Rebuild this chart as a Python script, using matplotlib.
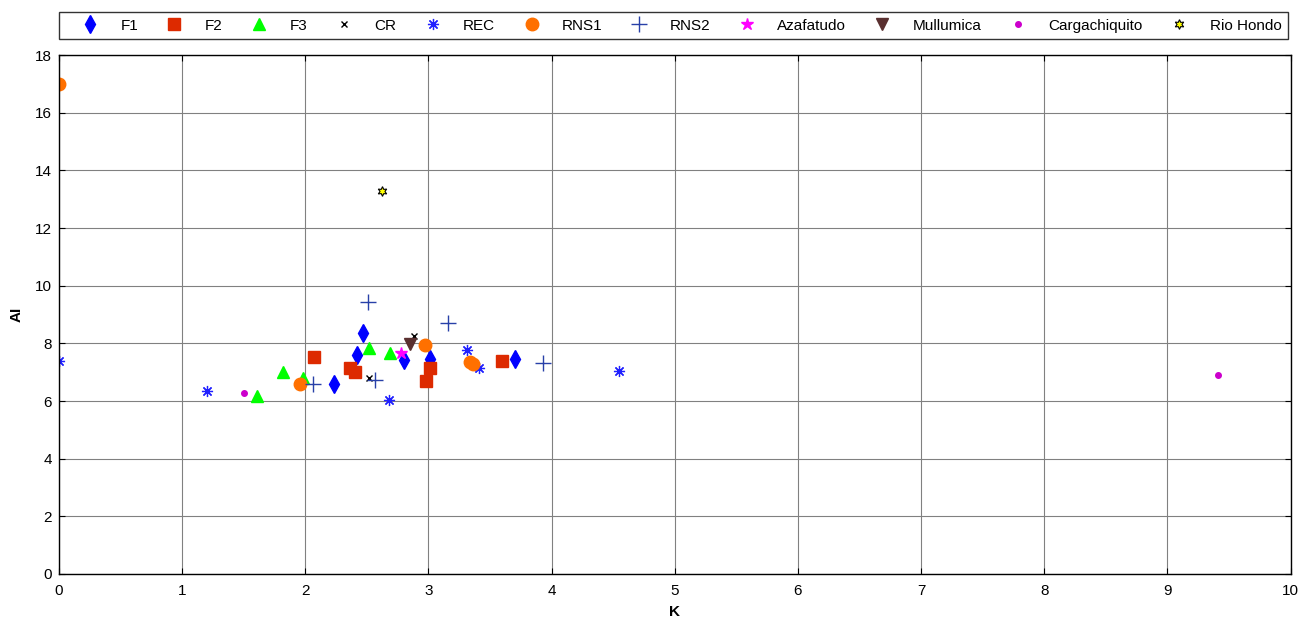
import numpy as np
import matplotlib
matplotlib.use("Agg")
import matplotlib.pyplot as plt

plt.rcParams['font.family'] = ['Liberation Sans', 'DejaVu Sans']

# K / AI values per site
F1_K = [2.47, 2.42, 2.23, 2.80, 3.70, 3.01]
F1_AI = [8.37, 7.60, 6.60, 7.42, 7.47, 7.45]

F2_K = [2.07, 2.36, 2.40, 3.01, 2.98, 3.60]
F2_AI = [7.52, 7.16, 7.00, 7.15, 6.70, 7.38]

F3_K = [1.82, 1.61, 1.98, 2.52, 2.69]
F3_AI = [7.02, 6.17, 6.79, 7.84, 7.68]

CR_K = [2.52, 2.88]
CR_AI = [6.79, 8.27]

REC_K = [0.0, 1.20, 2.68, 3.31, 3.41, 4.55]
REC_AI = [7.39, 6.35, 6.04, 7.77, 7.13, 7.03]

RNS1_K = [0.0, 1.96, 2.97, 3.34, 3.36]
RNS1_AI = [17.0, 6.59, 7.94, 7.36, 7.27]

RNS2_K = [2.51, 2.06, 3.16, 3.93, 2.57]
RNS2_AI = [9.42, 6.59, 8.72, 7.31, 6.73]

AZA_K = [2.78]
AZA_AI = [7.68]

MULL_K = [2.85]
MULL_AI = [7.97]

CARGA_K = [1.50, 9.41]
CARGA_AI = [6.27, 6.90]

RIO_K = [2.62]
RIO_AI = [13.28]

fig = plt.figure(figsize=(13.09, 6.19), dpi=100)
ax = fig.add_axes([0.045, 0.0727, 0.941, 0.8384])

ax.plot(F1_K, F1_AI, 'd', color='#0000ff', ms=9, ls='none', label='F1')
ax.plot(F2_K, F2_AI, 's', color='#dd2a00', ms=8, ls='none', label='F2')
ax.plot(F3_K, F3_AI, '^', color='#00ff00', ms=9, ls='none', label='F3')
ax.plot(CR_K, CR_AI, 'x', color='black', ms=5, mew=1, ls='none', label='CR')
ax.plot(REC_K, REC_AI, marker=(8, 2, 0), color='#2020ff', ms=8, mew=0.9, ls='none', label='REC')
ax.plot(RNS1_K, RNS1_AI, 'o', color='#ff7000', ms=9, ls='none', label='RNS1')
ax.plot(RNS2_K, RNS2_AI, '+', color='#2840a8', ms=11, mew=1, ls='none', label='RNS2')
ax.plot(AZA_K, AZA_AI, '*', color='#ff00ff', ms=9, ls='none', label='Azafatudo')
ax.plot(MULL_K, MULL_AI, 'v', color='#5a3030', ms=9, ls='none', label='Mullumica')
ax.plot(CARGA_K, CARGA_AI, 'o', color='#cc00cc', ms=4, ls='none', label='Cargachiquito')
ax.plot(RIO_K, RIO_AI, marker=(6, 1, 0), color='#ffff00', mec='black', mew=0.8, ms=7,
        ls='none', label='Rio Hondo')

ax.set_xlim(0, 10)
ax.set_ylim(0, 18)
ax.set_xticks(np.arange(0, 11, 1))
ax.set_yticks(np.arange(0, 19, 2))
ax.grid(True, color='#808080', lw=0.8)
ax.set_axisbelow(True)
ax.tick_params(direction='in', top=True, right=True, labelsize=11, length=4)
ax.tick_params(axis='x', pad=7)
ax.tick_params(axis='y', pad=5)
for s in ax.spines.values():
    s.set_linewidth(1)
ax.set_xlabel('K', fontsize=11, fontweight='bold', labelpad=5)
ax.set_ylabel('AI', fontsize=11, fontweight='bold', labelpad=8)

leg = fig.legend(loc='lower left', bbox_to_anchor=(0.045, 0.937, 0.939, 0.05), mode='expand',
                 ncol=11, fontsize=11, frameon=True, fancybox=False, edgecolor='black',
                 handlelength=3.2, handletextpad=0.4, borderaxespad=0, columnspacing=0.6,
                 borderpad=0.42, numpoints=1)
leg.get_frame().set_linewidth(1)

fig.savefig('out.png', dpi=100)
